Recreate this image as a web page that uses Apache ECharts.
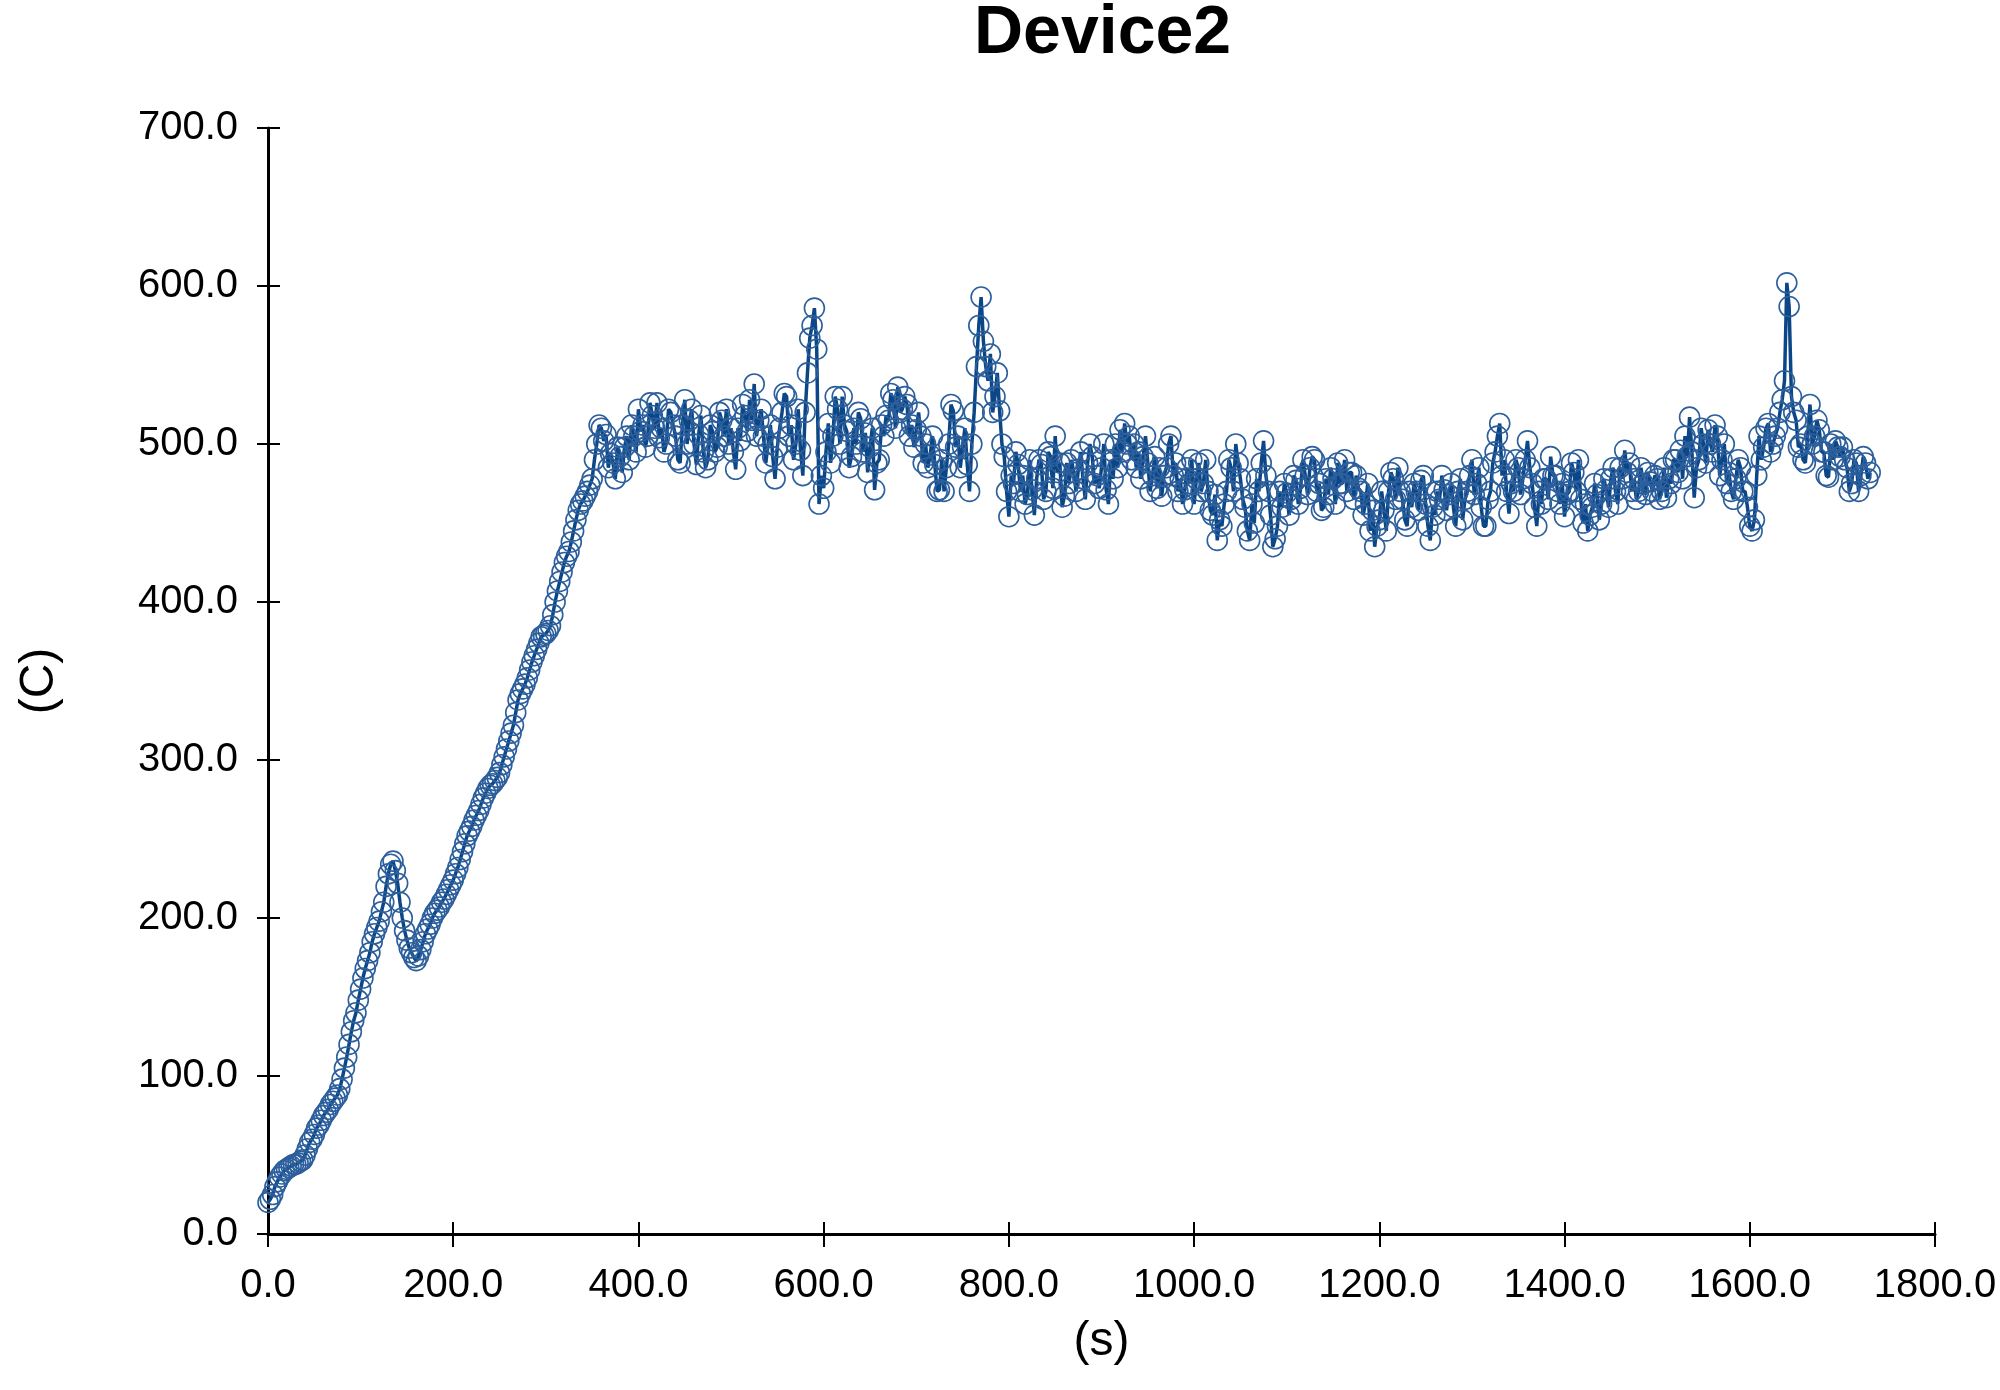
<!DOCTYPE html>
<html>
<head>
<meta charset="utf-8">
<script src="https://cdn.jsdelivr.net/npm/echarts@6/dist/echarts.min.js"></script>
<style>
html,body{margin:0;padding:0;background:#ffffff;}
#chart{width:2000px;height:1390px;}
</style>
</head>
<body>
<div id="chart"></div>
<script>
const chartTitle = 'Device2';
const xName = '(s)';
const yName = '(C)';
const xTicks = [0, 200, 400, 600, 800, 1000, 1200, 1400, 1600, 1800];
const yTicks = [0, 100, 200, 300, 400, 500, 600, 700];

const times = [
0,2.5,5,7.5,10,12.5,15,17.5,20,22.5,25,27.5,30,32.5,35,37.5,40,42.5,45,47.5,50,52.5,55,57.5,60,62.5,65,67.5,70,72.5,75,77.5,80,82.5,85,87.5,90,92.5,95,97.5,
100,102.5,105,107.5,110,112.5,115,117.5,120,122.5,125,127.5,130,132.5,135,137.5,140,142.5,145,147.5,150,152.5,155,157.5,160,162.5,165,167.5,170,172.5,175,177.5,180,182.5,185,187.5,190,192.5,195,197.5,
200,202.5,205,207.5,210,212.5,215,217.5,220,222.5,225,227.5,230,232.5,235,237.5,240,242.5,245,247.5,250,252.5,255,257.5,260,262.5,265,267.5,270,272.5,275,277.5,280,282.5,285,287.5,290,292.5,295,297.5,
300,302.5,305,307.5,310,312.5,315,317.5,320,322.5,325,327.5,330,332.5,335,337.5,340,342.5,345,347.5,350,352.5,355,357.5,360,362.5,365,367.5,370,372.5,375,377.5,380,382.5,385,387.5,390,392.5,395,397.5,
400,402.5,405,407.5,410,412.5,415,417.5,420,422.5,425,427.5,430,432.5,435,437.5,440,442.5,445,447.5,450,452.5,455,457.5,460,462.5,465,467.5,470,472.5,475,477.5,480,482.5,485,487.5,490,492.5,495,497.5,
500,502.5,505,507.5,510,512.5,515,517.5,520,522.5,525,527.5,530,532.5,535,537.5,540,542.5,545,547.5,550,552.5,555,557.5,560,562.5,565,567.5,570,572.5,575,577.5,580,582.5,585,587.5,590,592.5,595,597.5,
600,602.5,605,607.5,610,612.5,615,617.5,620,622.5,625,627.5,630,632.5,635,637.5,640,642.5,645,647.5,650,652.5,655,657.5,660,662.5,665,667.5,670,672.5,675,677.5,680,682.5,685,687.5,690,692.5,695,697.5,
700,702.5,705,707.5,710,712.5,715,717.5,720,722.5,725,727.5,730,732.5,735,737.5,740,742.5,745,747.5,750,752.5,755,757.5,760,762.5,765,767.5,770,772.5,775,777.5,780,782.5,785,787.5,790,792.5,795,797.5,
800,802.5,805,807.5,810,812.5,815,817.5,820,822.5,825,827.5,830,832.5,835,837.5,840,842.5,845,847.5,850,852.5,855,857.5,860,862.5,865,867.5,870,872.5,875,877.5,880,882.5,885,887.5,890,892.5,895,897.5,
900,902.5,905,907.5,910,912.5,915,917.5,920,922.5,925,927.5,930,932.5,935,937.5,940,942.5,945,947.5,950,952.5,955,957.5,960,962.5,965,967.5,970,972.5,975,977.5,980,982.5,985,987.5,990,992.5,995,997.5,
1000,1002.5,1005,1007.5,1010,1012.5,1015,1017.5,1020,1022.5,1025,1027.5,1030,1032.5,1035,1037.5,1040,1042.5,1045,1047.5,1050,1052.5,1055,1057.5,1060,1062.5,1065,1067.5,1070,1072.5,1075,1077.5,1080,1082.5,1085,1087.5,1090,1092.5,1095,1097.5,
1100,1102.5,1105,1107.5,1110,1112.5,1115,1117.5,1120,1122.5,1125,1127.5,1130,1132.5,1135,1137.5,1140,1142.5,1145,1147.5,1150,1152.5,1155,1157.5,1160,1162.5,1165,1167.5,1170,1172.5,1175,1177.5,1180,1182.5,1185,1187.5,1190,1192.5,1195,1197.5,
1200,1202.5,1205,1207.5,1210,1212.5,1215,1217.5,1220,1222.5,1225,1227.5,1230,1232.5,1235,1237.5,1240,1242.5,1245,1247.5,1250,1252.5,1255,1257.5,1260,1262.5,1265,1267.5,1270,1272.5,1275,1277.5,1280,1282.5,1285,1287.5,1290,1292.5,1295,1297.5,
1300,1302.5,1305,1307.5,1310,1312.5,1315,1317.5,1320,1322.5,1325,1327.5,1330,1332.5,1335,1337.5,1340,1342.5,1345,1347.5,1350,1352.5,1355,1357.5,1360,1362.5,1365,1367.5,1370,1372.5,1375,1377.5,1380,1382.5,1385,1387.5,1390,1392.5,1395,1397.5,
1400,1402.5,1405,1407.5,1410,1412.5,1415,1417.5,1420,1422.5,1425,1427.5,1430,1432.5,1435,1437.5,1440,1442.5,1445,1447.5,1450,1452.5,1455,1457.5,1460,1462.5,1465,1467.5,1470,1472.5,1475,1477.5,1480,1482.5,1485,1487.5,1490,1492.5,1495,1497.5,
1500,1502.5,1505,1507.5,1510,1512.5,1515,1517.5,1520,1522.5,1525,1527.5,1530,1532.5,1535,1537.5,1540,1542.5,1545,1547.5,1550,1552.5,1555,1557.5,1560,1562.5,1565,1567.5,1570,1572.5,1575,1577.5,1580,1582.5,1585,1587.5,1590,1592.5,1595,1597.5,
1600,1602.5,1605,1607.5,1610,1612.5,1615,1617.5,1620,1622.5,1625,1627.5,1630,1632.5,1635,1637.5,1640,1642.5,1645,1647.5,1650,1652.5,1655,1657.5,1660,1662.5,1665,1667.5,1670,1672.5,1675,1677.5,1680,1682.5,1685,1687.5,1690,1692.5,1695,1697.5,
1700,1702.5,1705,1707.5,1710,1712.5,1715,1717.5,1720,1722.5,1725,1727.5,1730
];

const temps = [
20,22,25,30,33,36,38,40,41,42,43,44,44,45,46,47,50,54,58,60,63,67,69,72,75,77,79,82,84,86,88,92,98,105,112,120,128,135,140,148,
155,162,168,173,178,185,190,194,198,204,210,220,228,234,236,230,222,210,200,192,186,181,178,175,173,176,180,185,190,193,196,200,203,205,207,210,212,215,218,221,
224,228,232,237,242,247,252,255,258,262,265,268,272,276,279,282,284,285,287,289,292,297,302,307,312,317,322,330,338,342,345,348,352,357,362,366,370,374,378,379,
380,382,385,392,400,407,413,419,425,429,432,438,445,452,458,462,464,467,470,474,478,490,500,512,510,502,506,485,494,488,478,498,492,482,498,505,490,512,505,495,
522,508,512,498,505,526,518,510,526,504,510,495,500,522,520,512,505,490,488,512,528,500,515,522,500,487,506,518,495,485,490,512,508,495,498,520,515,505,522,500,
510,495,484,510,502,525,518,508,528,515,538,505,515,522,505,488,500,512,492,478,498,510,520,532,530,505,512,490,500,522,496,480,520,545,567,575,586,560,462,480,
472,495,513,488,505,530,522,500,530,512,508,485,492,510,500,520,516,495,507,482,498,510,471,488,490,512,505,518,515,532,528,510,536,520,522,530,525,505,512,498,
509,520,505,488,500,485,493,505,487,470,471,490,470,485,500,525,521,498,505,485,498,510,487,470,500,520,549,575,593,565,549,540,557,520,530,545,521,500,492,470,
454,480,475,495,487,470,480,462,468,490,471,455,478,490,487,465,470,495,492,472,505,482,488,460,467,488,475,490,482,470,484,495,478,465,488,500,492,475,480,472,
485,500,471,462,490,478,500,485,509,495,513,500,505,490,500,485,495,478,492,505,488,470,480,492,472,485,467,480,485,500,505,480,488,470,478,462,471,485,475,490,
462,478,488,470,475,490,470,458,455,468,439,452,448,462,470,490,485,470,500,488,478,465,460,445,439,462,450,478,470,488,502,480,470,455,435,440,448,470,460,475,
469,455,465,480,477,462,472,490,480,468,485,492,490,470,475,458,460,478,468,485,478,462,488,475,475,490,470,482,482,465,480,472,470,455,462,475,445,458,435,448,
452,470,458,445,470,482,478,465,485,470,465,452,448,470,460,475,470,458,477,480,462,448,439,460,455,470,465,480,471,458,468,475,460,448,470,478,452,465,470,480,
490,468,475,485,460,448,448,465,470,488,495,505,513,480,490,470,456,475,470,490,485,468,478,490,502,485,475,460,448,470,462,478,478,465,492,480,480,470,462,475,
454,468,470,488,482,470,490,465,450,462,445,455,460,475,468,452,462,478,471,460,478,485,470,462,485,478,496,482,488,470,478,465,470,485,475,468,482,476,470,480,
478,465,470,485,466,478,475,490,490,482,496,478,505,492,517,495,466,485,490,510,500,488,509,500,495,512,505,480,490,500,475,482,470,465,478,490,485,470,470,460,
448,445,452,480,505,490,498,510,513,495,500,505,510,520,528,540,602,587,530,520,515,498,500,490,488,505,525,500,505,515,509,495,495,480,479,500,490,502,498,492,
498,490,485,470,475,490,488,470,480,492,488,478,482
];

const seriesData = times.map((t, i) => [t, temps[i]]);

const FONT = '"Liberation Sans", Arial, sans-serif';
const lineColor = '#0b4686';
const circleColor = '#2c5f9c';

const chart = echarts.init(document.getElementById('chart'), null, {renderer: 'canvas'});

const baseX = {
  type: 'value', min: xTicks[0], max: xTicks[xTicks.length - 1], interval: 200,
  splitLine: {show: false}
};
const baseY = {
  type: 'value', min: yTicks[0], max: yTicks[yTicks.length - 1], interval: 100,
  splitLine: {show: false}
};

chart.setOption({
  animation: false,
  backgroundColor: '#ffffff',
  title: {
    text: chartTitle,
    left: 974, top: 0, padding: 0,
    textStyle: {fontFamily: FONT, fontSize: 68, fontWeight: 'bold', color: '#000'}
  },
  grid: {left: 268, right: 65, top: 128, bottom: 156, containLabel: false},
  xAxis: [
    Object.assign({}, baseX, {
      position: 'bottom',
      name: xName, nameLocation: 'middle', nameGap: 84,
      nameTextStyle: {fontFamily: FONT, fontSize: 48, color: '#000'},
      axisLine: {show: true, onZero: false, lineStyle: {color: '#000', width: 3}},
      axisTick: {show: true, length: 13, lineStyle: {color: '#000', width: 2}},
      axisLabel: {fontFamily: FONT, fontSize: 40, color: '#000', margin: 32,
        formatter: v => v.toFixed(1)}
    }),
    Object.assign({}, baseX, {
      position: 'bottom',
      axisLine: {show: false, onZero: false},
      axisTick: {show: true, inside: true, length: 12, lineStyle: {color: '#000', width: 2}},
      axisLabel: {show: false}
    })
  ],
  yAxis: [
    Object.assign({}, baseY, {
      position: 'left',
      name: yName, nameLocation: 'middle', nameGap: 204, nameRotate: 90,
      nameTextStyle: {fontFamily: FONT, fontSize: 48, color: '#000'},
      axisLine: {show: true, onZero: false, lineStyle: {color: '#000', width: 3}},
      axisTick: {show: true, length: 11, lineStyle: {color: '#000', width: 2}},
      axisLabel: {fontFamily: FONT, fontSize: 40, color: '#000', margin: 30,
        formatter: v => v.toFixed(1)}
    }),
    Object.assign({}, baseY, {
      position: 'left',
      axisLine: {show: false, onZero: false},
      axisTick: {show: true, inside: true, length: 12, lineStyle: {color: '#000', width: 2}},
      axisLabel: {show: false}
    })
  ],
  series: [{
    type: 'line',
    xAxisIndex: 0, yAxisIndex: 0,
    data: seriesData,
    showAllSymbol: true,
    symbol: 'circle',
    symbolSize: 20,
    lineStyle: {color: lineColor, width: 3.5},
    itemStyle: {color: 'rgba(0,0,0,0)', borderColor: circleColor, borderWidth: 1.6},
    emphasis: {disabled: true}
  }]
});
</script>
</body>
</html>
